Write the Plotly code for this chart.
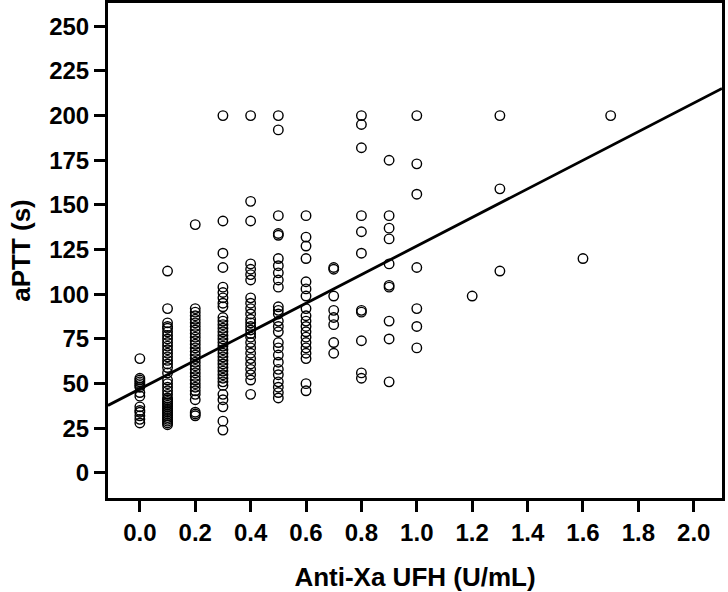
import plotly.graph_objects as go

# Anti-Xa levels (U/mL) and the aPTT values (s) observed at each level
xa_levels = [0.0, 0.1, 0.2, 0.3, 0.4, 0.5, 0.6, 0.7, 0.8, 0.9, 1.0, 1.2, 1.3, 1.6, 1.7]

aptt_00 = [64, 53, 52, 51, 50, 49, 48, 45, 43, 37, 35, 34, 32, 30, 28]
aptt_01 = [113, 92, 84, 82, 81, 79, 77, 75, 73, 71, 69, 67, 65, 63, 61, 59, 56, 52, 50, 48,
           46, 44, 42, 41, 40, 39, 38, 37, 36, 35, 34, 33, 32, 31, 30, 29, 28, 27]
aptt_02 = [139, 92, 90, 88, 86, 84, 82, 80, 78, 76, 74, 72, 70, 68, 66, 64, 62, 60, 58, 56,
           54, 52, 50, 48, 46, 44, 41, 34, 33, 32]
aptt_03 = [200, 141, 123, 115, 104, 101, 98, 95, 93, 87, 85, 83, 81, 79, 77, 75, 73, 71, 69,
           67, 65, 63, 61, 59, 57, 55, 53, 51, 49, 44, 41, 37, 29, 24]
aptt_04 = [200, 152, 141, 117, 114, 111, 108, 98, 95, 92, 89, 86, 84, 82, 80, 78, 76, 73, 70,
           67, 64, 61, 58, 55, 52, 44]
aptt_05 = [200, 192, 144, 134, 133, 120, 116, 112, 108, 104, 93, 91, 89, 85, 82, 79, 73, 70,
           66, 62, 58, 55, 51, 48, 45, 42]
aptt_06 = [144, 132, 127, 120, 107, 103, 99, 92, 88, 85, 82, 79, 76, 73, 70, 67, 64, 50, 46]
aptt_07 = [115, 114, 99, 91, 87, 83, 73, 67]
aptt_08 = [200, 195, 182, 144, 135, 123, 91, 90, 74, 56, 53]
aptt_09 = [175, 144, 137, 131, 117, 105, 104, 85, 75, 51]
aptt_10 = [200, 173, 156, 115, 92, 82, 70]
aptt_12 = [99]
aptt_13 = [200, 159, 113]
aptt_16 = [120]
aptt_17 = [200]

aptt_by_level = [aptt_00, aptt_01, aptt_02, aptt_03, aptt_04, aptt_05, aptt_06, aptt_07,
                 aptt_08, aptt_09, aptt_10, aptt_12, aptt_13, aptt_16, aptt_17]

# Regression line
fit_intercept = 47.0
fit_slope = 80.0

x_ticks = [0.0, 0.2, 0.4, 0.6, 0.8, 1.0, 1.2, 1.4, 1.6, 1.8, 2.0]
x_tick_labels = ["0.0", "0.2", "0.4", "0.6", "0.8", "1.0", "1.2", "1.4", "1.6", "1.8", "2.0"]
y_ticks = [0, 25, 50, 75, 100, 125, 150, 175, 200, 225, 250]

x_range = [-0.115, 2.102]
y_range = [-14, 263]

xs, ys = [], []
for lvl, vals in zip(xa_levels, aptt_by_level):
    xs.extend([lvl] * len(vals))
    ys.extend(vals)

font_family = "Liberation Sans, Arial, Helvetica, sans-serif"

fig = go.Figure()
fig.add_trace(go.Scatter(
    x=xs, y=ys, mode="markers",
    marker=dict(symbol="circle-open", size=9.5, color="black", line=dict(width=1.4, color="black")),
    showlegend=False, cliponaxis=True,
))
fig.add_trace(go.Scatter(
    x=x_range,
    y=[fit_intercept + fit_slope * v for v in x_range],
    mode="lines", line=dict(color="black", width=2.8), showlegend=False,
))

axis_common = dict(
    showline=True, linecolor="black", linewidth=3, mirror=True,
    ticks="outside", ticklen=11, tickwidth=2.5, tickcolor="black",
    showgrid=False, zeroline=False, automargin=False,
    tickfont=dict(family=font_family, size=24, color="black", weight="bold"),
)

fig.update_xaxes(
    range=x_range, tickvals=x_ticks, ticktext=x_tick_labels,
    title=dict(text="<b>Anti-Xa UFH (U/mL)</b>", font=dict(family=font_family, size=26, color="black"),
               standoff=24),
    **axis_common,
)
fig.update_yaxes(
    range=y_range, tickvals=y_ticks,
    title=dict(text="<b>aPTT (s)</b>", font=dict(family=font_family, size=26, color="black"),
               standoff=12),
    **axis_common,
)

fig.update_layout(
    width=728, height=592,
    margin=dict(l=108, r=6, t=3, b=94),
    plot_bgcolor="white", paper_bgcolor="white",
    font=dict(family=font_family, color="black"),
)

fig.write_html("out.html", config={"displayModeBar": False},
               post_script="document.body.style.margin='0';")
